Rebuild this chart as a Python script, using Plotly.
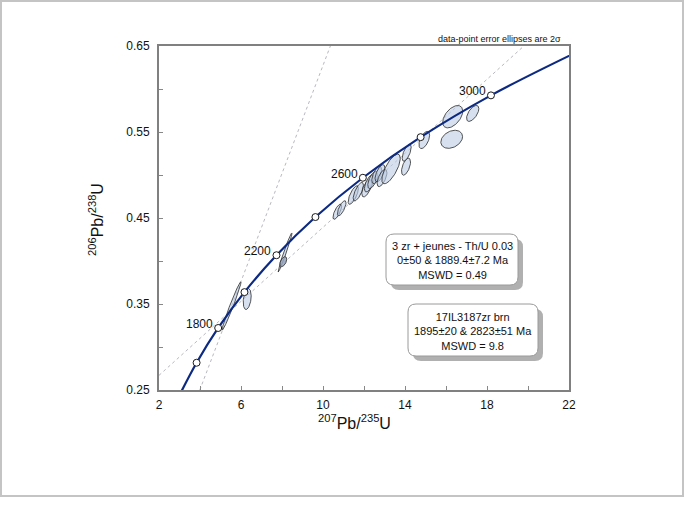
import numpy as np
import plotly.graph_objects as go

# concordia curve (age in Ma, 207Pb/235U, 206Pb/238U)
conc_age = [1400, 1600, 1800, 2000, 2200, 2400, 2600, 2800, 3000, 3200]
conc_x = [2.970, 3.834, 4.887, 6.169, 7.730, 9.630, 11.944, 14.762, 18.193, 22.37]
conc_y = [0.2426, 0.2817, 0.3221, 0.3638, 0.4067, 0.4511, 0.4968, 0.5440, 0.5926, 0.6428]

# age markers on the concordia and which ones carry a label
mark_age = [1600, 1800, 2000, 2200, 2400, 2600, 2800, 3000]
mark_x = [3.834, 4.887, 6.169, 7.730, 9.630, 11.944, 14.762, 18.193]
mark_y = [0.2817, 0.3221, 0.3638, 0.4067, 0.4511, 0.4968, 0.5440, 0.5926]
label_age = ["1800", "2200", "2600", "3000"]
label_x = [4.887, 7.730, 11.944, 18.193]
label_y = [0.3221, 0.4067, 0.4968, 0.5926]

# discordia lines (end points where they leave the frame)
disc1_x = [3.99, 10.36]
disc1_y = [0.25, 0.65]
disc2_x = [2.0, 19.8]
disc2_y = [0.267, 0.65]

# error ellipses: centre, 2-sigma half widths, correlation
ell_x = [5.537, 6.302, 8.146, 8.063, 10.698, 10.912, 11.478, 11.722, 12.132, 12.259,
         12.424, 12.620, 12.780, 12.878, 13.32, 14.083, 14.049, 14.941, 16.327, 16.278, 17.302]
ell_y = [0.3477, 0.3558, 0.4099, 0.3992, 0.4573, 0.4613, 0.4767, 0.4806, 0.4845, 0.4903,
         0.4942, 0.5000, 0.5020, 0.4965, 0.5070, 0.5259, 0.5097, 0.5407, 0.5678, 0.5415, 0.5716]
ell_sx = [0.46, 0.195, 0.34, 0.17, 0.21, 0.21, 0.25, 0.25, 0.24, 0.24,
          0.24, 0.24, 0.24, 0.24, 0.45, 0.22, 0.22, 0.26, 0.49, 0.53, 0.30]
ell_sy = [0.028, 0.0122, 0.0227, 0.0058, 0.0088, 0.0088, 0.0108, 0.0108, 0.0100, 0.0100,
          0.0100, 0.0100, 0.0100, 0.0100, 0.0172, 0.0099, 0.0099, 0.0100, 0.0130, 0.0105, 0.0093]
ell_rho = [0.98, 0.3, 0.98, 0.5, 0.72, 0.72, 0.72, 0.72, 0.62, 0.62,
           0.62, 0.62, 0.62, 0.62, 0.72, 0.65, 0.55, 0.55, 0.5, 0.3, 0.6]
ell_dark = [False, False, False, True] + [False] * 17

box1_text = "3 zr + jeunes - Th/U 0.03<br>0±50 & 1889.4±7.2 Ma<br>MSWD = 0.49"
box2_text = "17IL3187zr brn<br>1895±20 & 2823±51 Ma<br>MSWD = 9.8"

FONT = "Arial, Liberation Sans, sans-serif"

fig = go.Figure()

fig.add_trace(go.Scatter(x=disc1_x, y=disc1_y, mode="lines",
                         line=dict(color="#b8b8c0", width=1, dash="dot"), hoverinfo="skip"))
fig.add_trace(go.Scatter(x=disc2_x, y=disc2_y, mode="lines",
                         line=dict(color="#b8b8c0", width=1, dash="dot"), hoverinfo="skip"))

# ellipses
t = np.linspace(0, 2 * np.pi, 90)
for cx, cy, sx, sy, r, dark in zip(ell_x, ell_y, ell_sx, ell_sy, ell_rho, ell_dark):
    ex = cx + sx * np.cos(t)
    ey = cy + sy * (r * np.cos(t) + np.sqrt(1 - r * r) * np.sin(t))
    fig.add_trace(go.Scatter(x=ex, y=ey, mode="lines", fill="toself",
                             fillcolor="rgba(150,165,190,0.85)" if dark else "rgba(186,203,228,0.6)",
                             line=dict(color="#2a2a2a", width=0.8), hoverinfo="skip"))

fig.add_trace(go.Scatter(x=conc_x, y=conc_y, mode="lines",
                         line=dict(color="#0d2a82", width=2.2, shape="spline"), hoverinfo="skip"))
fig.add_trace(go.Scatter(x=mark_x, y=mark_y, mode="markers",
                         marker=dict(size=7, color="white", line=dict(color="#1a1a1a", width=1)),
                         hoverinfo="skip"))

for lab, lx, ly in zip(label_age, label_x, label_y):
    fig.add_annotation(x=lx, y=ly, text=lab, showarrow=False, xanchor="right", yanchor="middle",
                       xshift=-3, yshift=4, font=dict(size=12, color="#111", family=FONT))


# rounded boxes with a drop shadow (paper coordinates from pixel positions)
def px2paper(px, py):
    return (px - 159) / 410, (390 - py) / 344


def rbox(x0, y0, x1, y1, r=8):
    a0, b1 = px2paper(x0, y0)
    a1, b0 = px2paper(x1, y1)
    rx, ry = r / 410, r / 344
    return (f"M {a0+rx},{b0} L {a1-rx},{b0} Q {a1},{b0} {a1},{b0+ry} L {a1},{b1-ry} "
            f"Q {a1},{b1} {a1-rx},{b1} L {a0+rx},{b1} Q {a0},{b1} {a0},{b1-ry} "
            f"L {a0},{b0+ry} Q {a0},{b0} {a0+rx},{b0} Z")


shapes = []
for (x0, y0, x1, y1) in [(386, 234, 518, 285), (408, 304, 538, 356)]:
    shapes.append(dict(type="path", xref="paper", yref="paper", path=rbox(x0 + 5, y0 + 5, x1 + 5, y1 + 5),
                       fillcolor="#b0b0b0", line=dict(width=0), layer="above"))
    shapes.append(dict(type="path", xref="paper", yref="paper", path=rbox(x0, y0, x1, y1),
                       fillcolor="white", line=dict(color="#9a9a9a", width=1), layer="above"))

# outer frame of the picture
fx0, fy0 = px2paper(1, 496)
fx1, fy1 = px2paper(683, 1)
shapes.append(dict(type="rect", xref="paper", yref="paper", x0=fx0, y0=fy0, x1=fx1, y1=fy1,
                   line=dict(color="#c4c4c4", width=2), layer="below"))

bx, by = px2paper(452, 260)
fig.add_annotation(x=bx, y=by, xref="paper", yref="paper", text=box1_text, showarrow=False,
                   align="center", xanchor="center", yanchor="middle",
                   font=dict(size=11, color="#111", family=FONT))
bx, by = px2paper(473, 331)
fig.add_annotation(x=bx, y=by, xref="paper", yref="paper", text=box2_text, showarrow=False,
                   align="center", xanchor="center", yanchor="middle",
                   font=dict(size=11, color="#111", family=FONT))

fig.add_annotation(x=1.0 - 6 / 410, y=(390 - 39) / 344, xref="paper", yref="paper",
                   text="data-point error ellipses are 2σ", showarrow=False,
                   xanchor="right", yanchor="middle", font=dict(size=9, color="#111", family=FONT))

# axis titles
fig.add_annotation(x=(354 - 159) / 410, y=(390 - 422) / 344, xref="paper", yref="paper",
                   text="<sup>207</sup>Pb/<sup>235</sup>U", showarrow=False,
                   xanchor="center", yanchor="middle",
                   font=dict(size=16, color="#111", family=FONT))
fig.add_annotation(x=(96 - 159) / 410, y=(390 - 220) / 344, xref="paper", yref="paper",
                   text="<sup>206</sup>Pb/<sup>238</sup>U", showarrow=False, textangle=-90,
                   xanchor="center", yanchor="middle", font=dict(size=16, color="#111", family=FONT))

fig.update_layout(
    width=692, height=505,
    margin=dict(l=159, r=123, t=46, b=115),
    paper_bgcolor="white", plot_bgcolor="white",
    showlegend=False, shapes=shapes,
    font=dict(family=FONT, size=12, color="#111"),
    xaxis=dict(range=[2, 22], tickmode="array", tickvals=[2, 6, 10, 14, 18, 22],
               ticks="inside", ticklen=4, tickcolor="#888", showgrid=False, zeroline=False,
               showline=True, linecolor="#808080", linewidth=2, mirror=True, ticklabelstandoff=3,
               minor=dict(tick0=2, dtick=2, ticks="inside", ticklen=4, tickcolor="#888", showgrid=False),
               tickfont=dict(size=12, color="#111")),
    yaxis=dict(range=[0.25, 0.65], tickmode="array", tickvals=[0.25, 0.35, 0.45, 0.55, 0.65],
               ticktext=["0.25", "0.35", "0.45", "0.55", "0.65"],
               ticks="inside", ticklen=4, tickcolor="#888", showgrid=False, zeroline=False,
               showline=True, linecolor="#808080", linewidth=2, mirror=True, ticklabelstandoff=5,
               minor=dict(tick0=0.25, dtick=0.05, ticks="inside", ticklen=4, tickcolor="#888", showgrid=False),
               tickfont=dict(size=12, color="#111")),
)

# the page body has a default 8px margin; drop it so the figure sits at the window corner
fig.write_html("out.html", config={"displayModeBar": False},
               post_script="document.body.style.margin='0px';")
